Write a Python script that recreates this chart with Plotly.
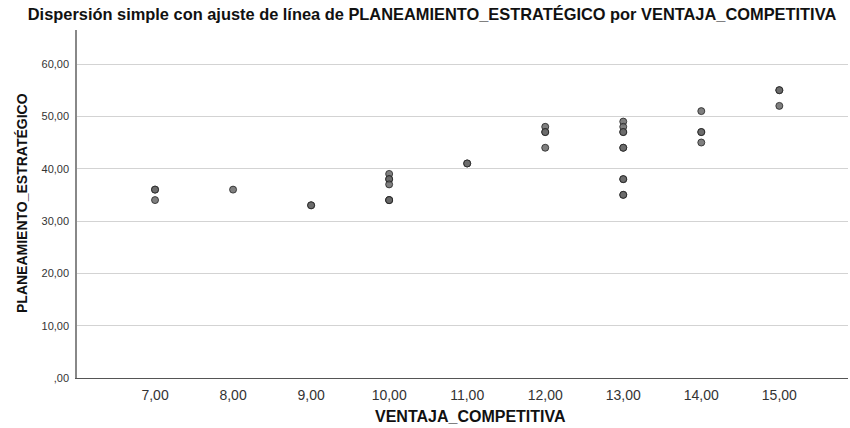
import plotly.graph_objects as go

ventaja = [7, 7, 7, 8, 9, 9, 10, 10, 10, 10, 10, 10, 10, 11, 11,
           12, 12, 12, 12, 13, 13, 13, 13, 13, 13, 13, 13, 13, 13,
           14, 14, 14, 14, 15, 15, 15]
planeamiento = [36, 36, 34, 36, 33, 33, 39, 38, 38, 37, 34, 34, 34, 41, 41,
                48, 47, 47, 44, 49, 48, 47, 47, 44, 44, 38, 38, 35, 35,
                51, 47, 47, 45, 55, 55, 52]

x_tickvals = [7, 8, 9, 10, 11, 12, 13, 14, 15]
x_ticktext = ["7,00", "8,00", "9,00", "10,00", "11,00", "12,00", "13,00", "14,00", "15,00"]
y_tickvals = [0, 10, 20, 30, 40, 50, 60]
y_ticktext = [",00", "10,00", "20,00", "30,00", "40,00", "50,00", "60,00"]

L, R, T, B = 77, 2, 30, 50
W, H = 850, 428
pw, ph = W - L - R, H - T - B

fig = go.Figure()
fig.add_trace(go.Scatter(
    x=ventaja, y=planeamiento, mode="markers",
    marker=dict(symbol="circle", size=7, color="rgba(105,105,105,0.85)",
                line=dict(color="rgba(35,35,35,0.8)", width=1)),
    showlegend=False, hoverinfo="x+y"))

fig.update_layout(
    width=W, height=H,
    margin=dict(l=L, r=R, t=T, b=B, autoexpand=False),
    paper_bgcolor="white", plot_bgcolor="white",
    font=dict(family="Liberation Sans, Arial, sans-serif", color="#222"),
    title=dict(text="<b>Dispersión simple con ajuste de línea de PLANEAMIENTO_ESTRATÉGICO por VENTAJA_COMPETITIVA</b>",
               x=432 / W, xanchor="center", y=1 - 14 / H, yanchor="middle",
               font=dict(size=16.4, color="#111")),
    xaxis=dict(range=[6.0, 15.88], tickvals=x_tickvals, ticktext=x_ticktext,
               showgrid=False, zeroline=False, showline=True, linecolor="#555", linewidth=1,
               ticks="", tickfont=dict(size=14, color="#333"), ticklabelstandoff=4,
               automargin=False),
    yaxis=dict(range=[0, 66.5], tickvals=y_tickvals, ticktext=y_ticktext,
               showgrid=True, gridcolor="#d3d3d3", gridwidth=1, zeroline=False,
               showline=True, linecolor="#888", linewidth=1.5,
               ticks="", tickfont=dict(size=11, color="#333"), ticklabelstandoff=4,
               automargin=False),
    annotations=[
        dict(text="<b>VENTAJA_COMPETITIVA</b>", xref="paper", yref="paper",
             x=(471 - L) / pw, y=-(416 - (H - B)) / ph, xanchor="center", yanchor="middle",
             showarrow=False, font=dict(size=16, color="#111")),
        dict(text="<b>PLANEAMIENTO_ESTRATÉGICO</b>", xref="paper", yref="paper",
             x=-(L - 22) / pw, y=((H - B) - 203) / ph, xanchor="center", yanchor="middle",
             textangle=-90, showarrow=False, font=dict(size=14, color="#111")),
    ],
)

fig.write_html("out.html", config={"displayModeBar": False},
               post_script="document.body.style.margin='0';document.body.style.padding='0';")
